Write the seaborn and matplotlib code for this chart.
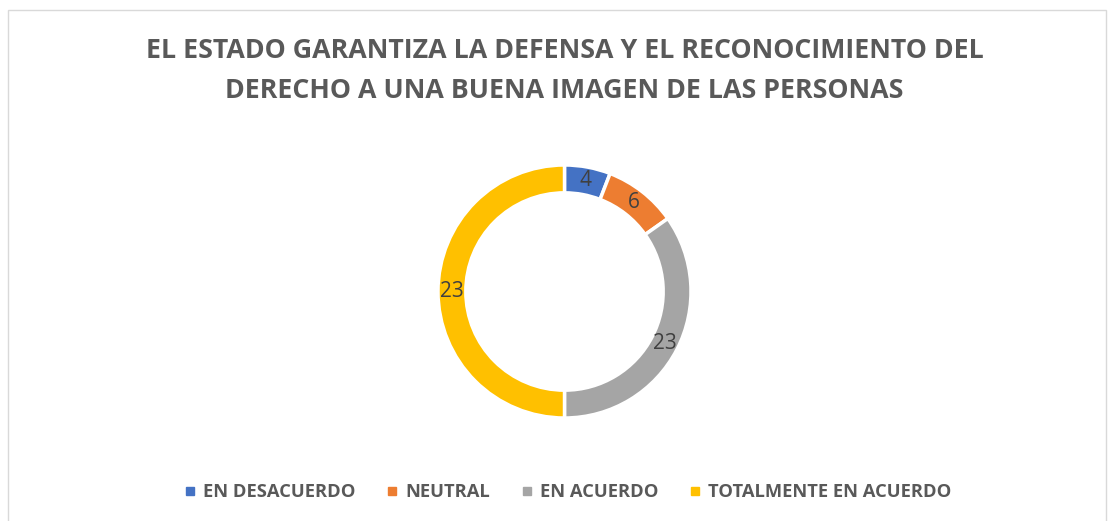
import matplotlib
matplotlib.use("Agg")
import numpy as np
import matplotlib.pyplot as plt
import seaborn as sns
from matplotlib.lines import Line2D
from matplotlib.patches import Rectangle

categories = ["EN DESACUERDO", "NEUTRAL", "EN ACUERDO", "TOTALMENTE EN ACUERDO"]
# data labels as printed on the chart
counts = [4, 6, 23, 23]
# slice sizes as drawn in the picture (yellow covers exactly half the ring)
slice_share = [2.7, 4.3, 16, 23]
colors = ["#4472C4", "#ED7D31", "#A5A5A5", "#FFC000"]
title_lines = ["EL ESTADO GARANTIZA LA DEFENSA Y EL RECONOCIMIENTO DEL",
               "DERECHO A UNA BUENA IMAGEN DE LAS PERSONAS"]

sns.set_theme(style="white")
plt.rcParams['font.family'] = ['Open Sans', 'DejaVu Sans']

W, H = 1110, 521
fig = plt.figure(figsize=(W / 100, H / 100), dpi=100)

# chart frame
fig.patches.append(Rectangle((8 / W, -0.1), 1098 / W, 1.1 - 10 / H, transform=fig.transFigure,
                             fill=False, edgecolor="#D9D9D9", linewidth=1))

# donut
cx, cy, r = 564.5, 291.5, 126.5
ax = fig.add_axes([(cx - r) / W, (H - cy - r) / H, 2 * r / W, 2 * r / H])
wedges, texts = ax.pie(
    slice_share, colors=colors, startangle=90, counterclock=False, radius=1,
    wedgeprops=dict(width=0.22, edgecolor="white", linewidth=2.5))

# value labels in the middle of the ring
for w, n in zip(wedges, counts):
    mid = np.deg2rad((w.theta1 + w.theta2) / 2)
    ax.text(0.89 * np.cos(mid), 0.89 * np.sin(mid), str(n), ha="center", va="center",
            color="#404040", fontsize=15)
ax.set_xlim(-1, 1)
ax.set_ylim(-1, 1)
ax.set_aspect("equal")
ax.axis("off")

# title
for i, line in enumerate(title_lines):
    fig.text(cx / W, 1 - (51.5 + 39 * i) / H, line, ha="center", va="center",
             fontsize=19.3, fontweight="bold", color="#595959")

# legend
handles = [Line2D([], [], marker="s", linestyle="none", markersize=5.5,
                  markerfacecolor=c, markeredgecolor=c) for c in colors]
fig.legend(handles, categories, loc="center", bbox_to_anchor=(567 / W, 1 - 492 / H),
           ncol=4, frameon=False, handletextpad=0.3, columnspacing=1.6,
           handlelength=0.8, prop=dict(size=13.2, weight="bold"), labelcolor="#595959")

fig.savefig("out.png", dpi=100)
